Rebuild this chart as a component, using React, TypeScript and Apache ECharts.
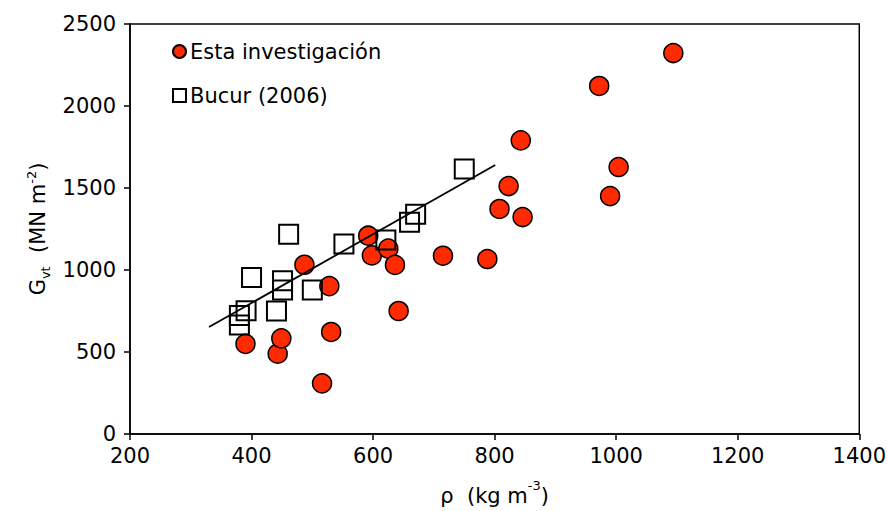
import React, { useEffect, useRef } from "react";
import * as echarts from "echarts";

const estaX = [390, 443, 449, 516, 531, 528, 487, 592, 598, 625, 636, 642, 715, 788, 808, 823, 846, 843, 972, 1004, 990, 1094];
const estaY = [550, 490, 583, 309, 622, 902, 1032, 1209, 1089, 1130, 1031, 750, 1087, 1067, 1372, 1512, 1323, 1790, 2122, 1628, 1451, 2323];

const bucurX = [461, 400, 451, 451, 500, 391, 380, 380, 441, 552, 621, 660, 670, 750];
const bucurY = [1218, 955, 935, 878, 878, 752, 722, 665, 750, 1159, 1183, 1291, 1340, 1616];

const trendX = [330, 801];
const trendY = [652, 1640];

const xTicks = { min: 200, max: 1400, interval: 200 };
const yTicks = { min: 0, max: 2500, interval: 500 };

const FONT = "DejaVu Sans";

export default function App() {
  const ref = useRef<HTMLDivElement>(null);
  useEffect(() => {
    if (!ref.current) return;
    const chart = echarts.init(ref.current, null, { renderer: "svg" });
    const axisCommon = {
      splitLine: { show: false },
      axisLine: { show: true, lineStyle: { color: "#000", width: 1.5 } },
      axisTick: { show: true, inside: false, length: 6, lineStyle: { color: "#000", width: 1.5 } },
      axisLabel: { color: "#000", fontSize: 21, fontFamily: FONT, formatter: (v: number) => String(v) },
    };
    chart.setOption({
      animation: false,
      backgroundColor: "#fff",
      textStyle: { fontFamily: FONT },
      grid: {
        left: 130,
        right: 29,
        top: 24,
        bottom: 77,
        show: true,
        borderColor: "#000",
        borderWidth: 1.5,
      },
      legend: {
        orient: "vertical",
        left: 167,
        top: 36,
        itemGap: 23,
        itemWidth: 13,
        itemHeight: 13,
        textStyle: { fontSize: 21, fontFamily: FONT, color: "#000", padding: [0, 0, 0, -1] },
        data: ["Esta investigación", "Bucur (2006)"],
      },
      xAxis: {
        type: "value",
        ...xTicks,
        ...axisCommon,
        axisLabel: { ...axisCommon.axisLabel, margin: 11 },
        name: "{b|ρ  (kg m}{sup|-3}{b|)}",
        nameLocation: "middle",
        nameGap: 45,
        nameTextStyle: {
          rich: {
            b: { fontSize: 21, fontFamily: FONT, color: "#000", lineHeight: 27, verticalAlign: "bottom" },
            sup: { fontSize: 13, fontFamily: FONT, color: "#000", lineHeight: 27, verticalAlign: "top" },
          },
        },
      },
      yAxis: {
        type: "value",
        ...yTicks,
        ...axisCommon,
        axisLabel: { ...axisCommon.axisLabel, margin: 14 },
        name: "{b|G}{sub|vt}{b|  (MN m}{sup|-2}{b|)}",
        nameLocation: "middle",
        nameGap: 76,
        nameRotate: 90,
        nameTextStyle: {
          rich: {
            b: { fontSize: 21, fontFamily: FONT, color: "#000", lineHeight: 27, verticalAlign: "middle" },
            sub: { fontSize: 13, fontFamily: FONT, color: "#000", lineHeight: 27, verticalAlign: "bottom" },
            sup: { fontSize: 13, fontFamily: FONT, color: "#000", lineHeight: 27, verticalAlign: "top" },
          },
        },
      },
      series: [
        {
          name: "Esta investigación",
          type: "scatter",
          symbol: "circle",
          symbolSize: 19,
          itemStyle: { color: "#ff2a00", opacity: 1, borderColor: "#000", borderWidth: 1.5 },
          data: estaX.map((x, i) => [x, estaY[i]]),
          z: 2,
        },
        {
          name: "Bucur (2006)",
          type: "scatter",
          symbol: "rect",
          symbolSize: 19,
          itemStyle: { color: "rgba(255,255,255,0)", opacity: 1, borderColor: "#000", borderWidth: 2 },
          data: bucurX.map((x, i) => [x, bucurY[i]]),
          z: 3,
        },
        {
          name: "trend",
          type: "line",
          showSymbol: false,
          symbol: "none",
          lineStyle: { color: "#000", width: 1.8 },
          data: trendX.map((x, i) => [x, trendY[i]]),
          z: 4,
        },
      ],
    });
    return () => chart.dispose();
  }, []);
  return (
    <div
      ref={ref}
      style={{ position: "absolute", left: 0, top: 0, width: 889, height: 511 }}
    />
  );
}
